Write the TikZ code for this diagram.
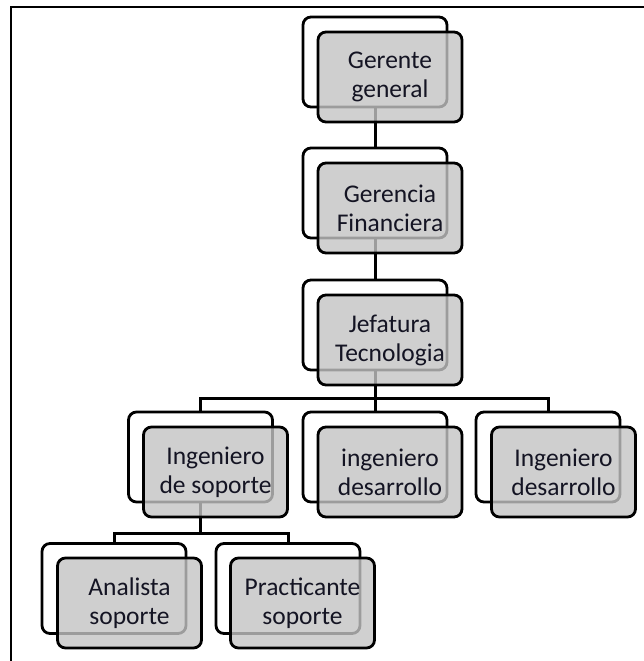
\documentclass[tikz,border=0pt]{standalone}
\usepackage{fontspec}
\setmainfont{Carlito}
\definecolor{boxgray}{RGB}{196,196,196}
\definecolor{txt}{RGB}{20,20,35}
\begin{document}
\begin{tikzpicture}[x=1pt,y=-1pt,
  backbox/.style={draw=black,line width=2.8pt,rounded corners=8pt,fill=white,
    minimum width=144pt,minimum height=90pt,inner sep=0pt},
  frontbox/.style={draw=black,line width=2.8pt,rounded corners=8pt,fill=boxgray,
    fill opacity=0.8,text opacity=1,draw opacity=1,minimum width=144pt,minimum height=90pt,
    inner sep=0pt,align=center,text=txt,font=\fontsize{25.5}{29}\selectfont},
  conn/.style={draw=black,line width=3pt}]
\useasboundingbox (0,0) rectangle (644,661);
% frame
\draw[line width=2pt] (11,661) -- (11,7) -- (644,7);
% back boxes
\node[backbox] (b1) at (375,62) {};
\node[backbox] (b2) at (375,193) {};
\node[backbox] (b3) at (375,325) {};
\node[backbox] (b4a) at (200.5,457) {};
\node[backbox] (b4b) at (375,457) {};
\node[backbox] (b4c) at (548,457) {};
\node[backbox] (b5a) at (114,588.5) {};
\node[backbox] (b5b) at (288,588.5) {};
% bus coordinates
\coordinate (busA) at (0,398);
\coordinate (busB) at (0,533);
% connectors
\draw[conn] (b1.south) -- (b2.north);
\draw[conn] (b2.south) -- (b3.north);
\draw[conn] (b3.south) -- (b3.south |- busA);
\draw[conn] (b4a.north) |- (b4c.north |- busA) -- (b4c.north);
\draw[conn] (b4b.north) -- (b4b.north |- busA);
\draw[conn] (b4a.south) -- (b4a.south |- busB);
\draw[conn] (b5a.north) |- (b5b.north |- busB) -- (b5b.north);
% front boxes
\node[frontbox] (f1) at (390,77) {Gerente\\general};
\node[frontbox] (f2) at (390,208) {Gerencia\\Financiera};
\node[frontbox] (f3) at (390,340) {Jefatura\\Tecnologia};
\node[frontbox] (f4a) at (215.5,472) {Ingeniero\\de soporte};
\node[frontbox] (f4b) at (390,472) {ingeniero\\desarrollo};
\node[frontbox] (f4c) at (563.5,472) {Ingeniero\\desarrollo};
\node[frontbox] (f5a) at (129.5,603) {Analista\\soporte};
\node[frontbox] (f5b) at (302.5,603) {Practicante\\soporte};
\end{tikzpicture}
\end{document}
